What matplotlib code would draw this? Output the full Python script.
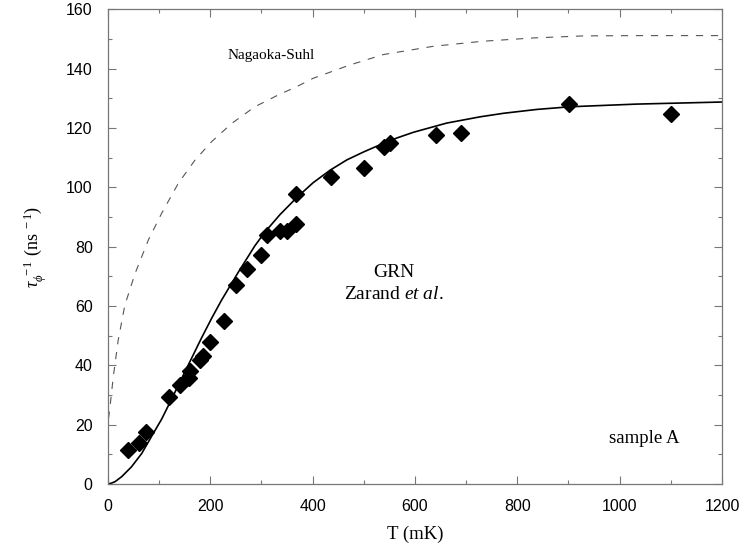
#!/usr/bin/env python3
import matplotlib
matplotlib.use("Agg")
import matplotlib.pyplot as plt
from matplotlib.ticker import MultipleLocator

# measured dephasing rates, sample A
t_data = [40, 60, 75, 120, 140, 160, 159, 180, 186, 200, 227, 250,
          271, 300, 310, 336, 350, 367, 367, 436, 500, 539, 551, 641, 690, 901, 1100]
rate_data = [11.5, 13.8, 17.4, 29.4, 33.3, 38.2, 35.6, 41.9, 43.3, 48.0, 55.0, 67.0,
             72.4, 77.1, 84.0, 85.3, 85.2, 87.8, 97.7, 103.5, 106.4, 113.8, 114.9, 117.7, 118.5, 128.3, 124.7]

# GRN theory (Zarand et al.)
t_grn = [0, 7, 14, 27, 46, 66, 85, 105, 124, 144, 164, 183, 203, 222, 255, 287, 307,
         336, 369, 401, 434, 467, 500, 532, 565, 597, 662, 727, 773, 838, 903, 1033, 1200]
rate_grn = [0, 0.3, 0.8, 2.5, 5.8, 10.3, 16.0, 21.9, 28.5, 35.6, 42.6, 49.3, 56.0, 62.0, 71.5, 80.3, 85.0,
            90.8, 96.6, 101.6, 105.8, 109.3, 112.0, 114.4, 116.7, 118.6, 121.7, 123.8, 125.0, 126.3, 127.2, 128.1, 128.8]

# Nagaoka-Suhl
t_ns = [1, 4, 10.4, 20, 33, 53, 79, 105, 137.5, 170, 203, 242, 287, 333, 369, 401,
        473, 538, 636, 733, 831, 929, 1050, 1200]
rate_ns = [22, 26, 36.2, 48.5, 60.3, 71.0, 82.3, 91.3, 101.4, 109.2, 115.5, 121.6, 127.2, 131.2, 134.0, 136.8,
           141.3, 144.8, 147.6, 149.3, 150.4, 151.1, 151.2, 151.2]

plt.rcParams["mathtext.fontset"] = "custom"
plt.rcParams["mathtext.rm"] = "Liberation Serif"
plt.rcParams["mathtext.it"] = "Liberation Serif:italic"

fig = plt.figure(figsize=(7.39, 5.52), dpi=100)
ax = fig.add_axes([0.1461, 0.1232, 0.8309, 0.8596])

ax.plot(t_ns, rate_ns, color="#555555", lw=0.8, dashes=(6.5, 7))
ax.plot(t_grn, rate_grn, color="black", lw=1.2)
ax.plot(t_data, rate_data, "D", color="black", markersize=8.5, linestyle="none")

ax.set_xlim(0, 1200)
ax.set_ylim(0, 160)
ax.xaxis.set_major_locator(MultipleLocator(200))
ax.xaxis.set_minor_locator(MultipleLocator(100))
ax.yaxis.set_major_locator(MultipleLocator(20))
ax.yaxis.set_minor_locator(MultipleLocator(10))
ax.tick_params(which="both", direction="in", top=True, right=True, color="#777777",
               labelsize=11.5, labelfontfamily="Liberation Sans")
ax.tick_params(which="major", length=6, width=0.8)
ax.tick_params(which="minor", length=3, width=0.8)
ax.tick_params(axis="x", pad=10.5)
ax.tick_params(axis="y", pad=11)
for sp in ax.spines.values():
    sp.set_color("#777777")
    sp.set_linewidth(0.9)

serif = "Liberation Serif"
ax.set_xlabel("T (mK)", family=serif, fontsize=13.5, labelpad=9)
ax.set_ylabel(r"$\tau_{\phi}^{\ -1}$ (ns$^{\ -1}$)", family=serif, fontsize=13, labelpad=12)

ax.text(318, 144.5, "Nagaoka-Suhl", family=serif, fontsize=11, ha="center", va="center")
ax.text(559, 71.2, "GRN", family=serif, fontsize=14, ha="center", va="center")
ax.text(559, 64.0, r"Zarand $et\ al$.", family=serif, fontsize=14, ha="center", va="center")
ax.text(1048, 15.5, "sample A", family=serif, fontsize=13.5, ha="center", va="center")

fig.savefig("out.png", dpi=100)
